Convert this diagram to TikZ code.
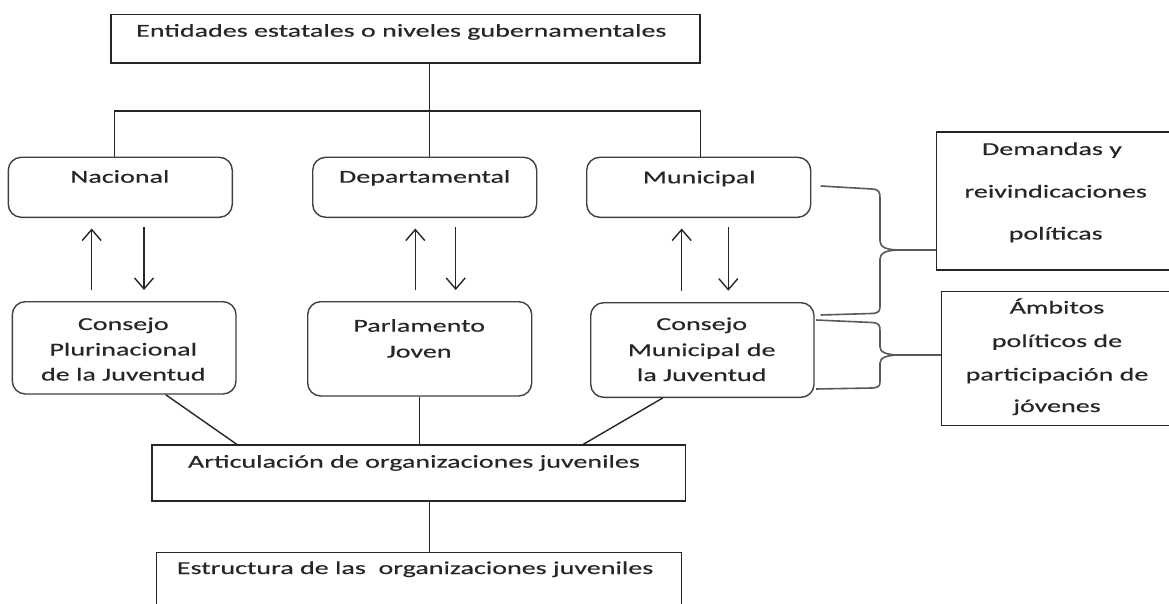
\documentclass[tikz,border=0pt]{standalone}
\usepackage{fontspec}
\setmainfont{Carlito}[FakeStretch=1.54,FakeBold=0.35]
\usetikzlibrary{arrows.meta}
\begin{document}
\begin{tikzpicture}[x=1pt,y=-1pt,
  rbox/.style={draw=black!75, line width=1.4pt, rounded corners=13pt, inner sep=0pt},
  sbox/.style={draw=black!85, line width=1.4pt, inner sep=0pt},
  txt/.style={inner sep=0pt, anchor=base, font=\fontsize{18.2}{22}\selectfont, text=black!85},
  txtl/.style={txt, anchor=base west},
  ln/.style={line width=1.4pt, draw=black!85},
  arr/.style={ln, -{Straight Barb[length=11pt,width=19pt]}},
  brc/.style={line width=1.6pt, draw=black!65}]
\useasboundingbox (0,0) rectangle (1169,604);
\clip (0,0) rectangle (1169,604);
\fill[white] (0,0) rectangle (1169,604);

% boxes
\node[sbox, minimum width=589pt, minimum height=48.7pt] (top) at (405.5,38.65) {};
\node[rbox, minimum width=224pt, minimum height=60pt] (nac) at (120.3,187.3) {};
\node[rbox, minimum width=224pt, minimum height=60pt] (dep) at (424.7,187.3) {};
\node[rbox, minimum width=224pt, minimum height=60pt] (mun) at (698.7,187.3) {};
\node[rbox, minimum width=223.7pt, minimum height=92.3pt] (cpj) at (124.15,347.85) {};
\node[rbox, minimum width=224pt, minimum height=94.3pt] (pj) at (419.7,348.85) {};
\node[rbox, minimum width=223.3pt, minimum height=94.6pt] (cmj) at (702.35,350) {};
\node[sbox, minimum width=533.5pt, minimum height=56pt] (art) at (418.55,473) {};
\node[sbox, minimum width=525.3pt, minimum height=67.7pt] (est) at (418.95,586.15) {};
\node[sbox, minimum width=248.3pt, minimum height=138pt] (dem) at (1060.85,201) {};
\node[sbox, minimum width=243.3pt, minimum height=133.8pt] (amb) at (1063.35,358.6) {};

% texts
\node[txtl] (topt) at (136,36.7) {Entidades estatales o niveles gubernamentales};
\node[txt] (nact) at (119.9,182.7) {Nacional};
\node[txt] (dept) at (424.7,182.7) {Departamental};
\node[txt] (munt) at (699.3,183.3) {Municipal};
\node[txt] (cpj1) at (123.3,330) {Consejo};
\node[txt] (cpj2) at (123.3,355.5) {Plurinacional};
\node[txt] (cpj3) at (123.3,380.5) {de la Juventud};
\node[txt] (pj1) at (419.2,331.7) {Parlamento};
\node[txt] (pj2) at (419.2,357.5) {Joven};
\node[txt] (cmj1) at (701.7,330) {Consejo};
\node[txt] (cmj2) at (701.7,356) {Municipal de};
\node[txt] (cmj3) at (701.7,381) {la Juventud};
\node[txtl] (artt) at (187.8,467.7) {Articulación de organizaciones juveniles};
\node[txtl] (estt) at (176.7,574) {Estructura de las~ organizaciones juveniles};
\node[txt] (dem1) at (1052,155) {Demandas y};
\node[txt] (dem2) at (1055.7,197.5) {reivindicaciones};
\node[txt] (dem3) at (1055.7,239.5) {políticas};
\node[txt] (amb1) at (1057,313.5) {Ámbitos};
\node[txt] (amb2) at (1057,347) {políticos de};
\node[txt] (amb3) at (1057,380.5) {participación de};
\node[txt] (amb4) at (1057,412) {jóvenes};

% guide coordinates
\coordinate (hb) at (0,111);
\coordinate (xl) at (114.3,0);
\coordinate (xm) at (429.3,0);
\coordinate (xr) at (700.3,0);
\coordinate (xc1) at (165.7,0);
\coordinate (xa1) at (236.7,0);
\coordinate (xc3) at (662.7,0);
\coordinate (xa3) at (583.3,0);

% tree lines
\draw[ln] (top.south -| xm) -- (dep.north -| xm);
\draw[ln] (nac.north -| xl) -- (hb -| xl) -- (hb -| xr) -- (mun.north -| xr);
\draw[ln] (cpj.south -| xc1) -- (art.north -| xa1);
\draw[ln] (pj.south) -- (art.north -| pj.south);
\draw[ln] (cmj.south -| xc3) -- (art.north -| xa3);
\draw[ln] (art.south -| xm) -- (est.north -| xm);

% arrows
\coordinate (n1a) at (91.7,290);   \coordinate (n1b) at (91.7,228.5);
\coordinate (n2a) at (144,227);    \coordinate (n2b) at (144,290);
\coordinate (d1a) at (415.3,290);  \coordinate (d1b) at (415.3,228.5);
\coordinate (d2a) at (455.7,227);  \coordinate (d2b) at (455.7,290);
\coordinate (m1a) at (681.7,290.7);\coordinate (m1b) at (681.7,228.5);
\coordinate (m2a) at (728.3,227.3);\coordinate (m2b) at (728.3,290.7);
\draw[arr] (n1a) -- (n1b);
\draw[arr] (n2a) -- (n2b);
\draw[arr] (d1a) -- (d1b);
\draw[arr] (d2a) -- (d2b);
\draw[arr] (m1a) -- (m1b);
\draw[arr] (m2a) -- (m2b);

% braces
\coordinate (b1a) at (820.7,186);
\coordinate (b1b) at (820.7,315);
\coordinate (b1t) at (900,250);
\draw[brc] (b1a) -- (872,189) .. controls (879,189.5) and (880,192) .. (880,198)
  -- (880,241) .. controls (880,247) and (886,250) .. (b1t)
  .. controls (886,250) and (880,253) .. (880,259)
  -- (880,306) .. controls (880,311) and (879,313) .. (872,313.5) -- (b1b);
\draw[brc] (b1t) -- (b1t -| dem.west);

\coordinate (b2a) at (816,320);
\coordinate (b2b) at (816,389);
\coordinate (b2t) at (900,355);
\draw[brc] (b2a) -- (872,322.5) .. controls (879,323) and (880,325) .. (880,331)
  -- (880,347) .. controls (880,352) and (886,355) .. (b2t)
  .. controls (886,355) and (880,358) .. (880,363)
  -- (880,381) .. controls (880,386) and (879,387.5) .. (872,388) -- (b2b);
\draw[brc] (b2t) -- (b2t -| amb.west);
\end{tikzpicture}
\end{document}
